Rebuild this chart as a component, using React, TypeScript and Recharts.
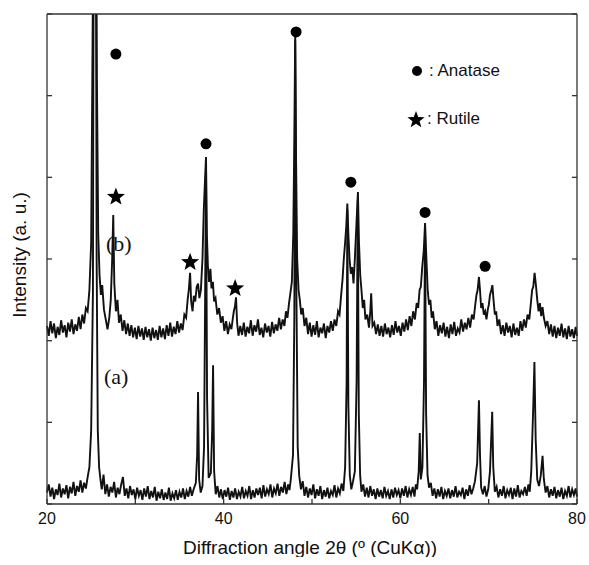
import { ComposedChart, Line, Scatter, XAxis, YAxis } from 'recharts';

// 2θ (deg) vs intensity (arb. units, plot spans 0–600)
const patternA: [number, number][] = [
  [20.0, 14], [20.2, 24], [20.4, 9], [20.6, 20], [20.8, 6], [21.0, 18], [21.2, 11], [21.4, 25], [21.6, 8], [21.8, 19],
  [22.0, 12], [22.2, 23], [22.4, 7], [22.6, 21], [22.8, 13], [23.0, 27], [23.2, 10], [23.4, 22], [23.6, 15], [23.8, 29],
  [24.0, 14], [24.2, 26], [24.4, 19], [24.6, 33], [24.8, 45], [25.0, 90], [25.2, 260], [25.32, 900], [25.5, 900], [25.62, 300],
  [25.75, 90], [25.9, 45], [26.05, 30], [26.2, 18], [26.4, 36], [26.6, 12], [26.8, 24], [27.0, 9], [27.2, 21], [27.4, 14],
  [27.6, 27], [27.8, 8], [28.0, 20], [28.2, 12], [28.4, 24], [28.6, 33], [28.8, 10], [29.0, 19], [29.2, 7], [29.4, 22],
  [29.6, 11], [29.8, 18], [30.0, 6], [30.2, 20], [30.4, 10], [30.6, 17], [30.8, 5], [31.0, 19], [31.2, 9], [31.4, 22],
  [31.6, 6], [31.8, 16], [32.0, 8], [32.2, 21], [32.4, 4], [32.6, 15], [32.8, 7], [33.0, 18], [33.2, 5], [33.4, 14],
  [33.6, 6], [33.8, 20], [34.0, 4], [34.2, 13], [34.4, 7], [34.6, 17], [34.8, 5], [35.0, 15], [35.2, 8], [35.4, 19],
  [35.6, 6], [35.8, 16], [36.0, 9], [36.2, 21], [36.4, 10], [36.6, 18], [36.85, 26], [37.0, 60], [37.1, 137], [37.22, 30],
  [37.4, 14], [37.6, 22], [37.78, 70], [37.9, 250], [38.0, 415], [38.12, 130], [38.3, 32], [38.55, 38], [38.7, 90], [38.8, 170],
  [38.92, 40], [39.1, 12], [39.3, 22], [39.5, 8], [39.7, 18], [39.9, 6], [40.1, 17], [40.3, 9], [40.5, 20], [40.7, 5],
  [40.9, 16], [41.1, 8], [41.3, 19], [41.5, 6], [41.7, 15], [41.9, 9], [42.1, 21], [42.3, 7], [42.5, 16], [42.7, 10],
  [42.9, 22], [43.1, 6], [43.3, 17], [43.5, 8], [43.7, 19], [43.9, 11], [44.1, 20], [44.3, 7], [44.5, 23], [44.7, 9],
  [44.9, 18], [45.1, 12], [45.3, 24], [45.5, 8], [45.7, 19], [45.9, 13], [46.1, 25], [46.3, 10], [46.5, 21], [46.7, 14],
  [46.9, 27], [47.1, 12], [47.3, 24], [47.45, 17], [47.6, 30], [47.85, 60], [48.0, 230], [48.1, 568], [48.22, 280], [48.38, 70],
  [48.55, 35], [48.75, 18], [48.95, 28], [49.15, 10], [49.35, 21], [49.55, 8], [49.75, 19], [49.95, 11], [50.15, 24], [50.35, 7],
  [50.55, 18], [50.75, 10], [50.95, 22], [51.15, 6], [51.35, 17], [51.55, 9], [51.75, 20], [51.95, 7], [52.15, 16], [52.35, 11],
  [52.55, 23], [52.75, 8], [52.95, 19], [53.15, 13], [53.35, 25], [53.55, 16], [53.75, 45], [53.92, 150], [54.0, 360], [54.12, 120],
  [54.28, 35], [54.45, 18], [54.65, 28], [54.85, 40], [55.05, 150], [55.18, 372], [55.3, 110], [55.45, 35], [55.6, 15], [55.8, 24],
  [56.0, 9], [56.2, 20], [56.4, 8], [56.6, 22], [56.8, 10], [57.0, 18], [57.2, 6], [57.4, 19], [57.6, 9], [57.8, 17],
  [58.0, 7], [58.2, 21], [58.4, 10], [58.6, 16], [58.8, 6], [59.0, 18], [59.2, 8], [59.4, 20], [59.6, 11], [59.8, 17],
  [60.0, 7], [60.2, 19], [60.4, 10], [60.6, 22], [60.8, 8], [61.0, 18], [61.2, 11], [61.4, 21], [61.6, 9], [61.75, 24],
  [61.9, 18], [62.08, 40], [62.2, 87], [62.32, 30], [62.5, 45], [62.68, 150], [62.8, 341], [62.92, 110], [63.08, 35], [63.25, 20],
  [63.45, 26], [63.65, 10], [63.85, 19], [64.05, 7], [64.25, 18], [64.45, 9], [64.65, 21], [64.85, 6], [65.05, 16], [65.25, 10],
  [65.45, 19], [65.65, 7], [65.85, 17], [66.05, 9], [66.25, 22], [66.45, 8], [66.65, 15], [66.85, 11], [67.05, 20], [67.25, 6],
  [67.45, 18], [67.65, 10], [67.85, 23], [68.05, 12], [68.25, 19], [68.45, 28], [68.7, 50], [68.9, 127], [69.02, 60], [69.15, 20],
  [69.35, 12], [69.55, 22], [69.75, 9], [69.95, 18], [70.15, 40], [70.4, 113], [70.52, 45], [70.7, 15], [70.9, 21], [71.1, 8],
  [71.3, 18], [71.5, 10], [71.7, 22], [71.9, 7], [72.1, 17], [72.3, 11], [72.5, 20], [72.7, 6], [72.9, 19], [73.1, 9],
  [73.3, 23], [73.5, 8], [73.7, 16], [73.9, 12], [74.1, 21], [74.3, 10], [74.5, 24], [74.65, 15], [74.82, 40], [75.05, 120],
  [75.18, 174], [75.32, 80], [75.5, 30], [75.7, 22], [75.9, 35], [76.1, 59], [76.25, 30], [76.45, 14], [76.65, 22], [76.85, 8],
  [77.05, 18], [77.25, 10], [77.45, 21], [77.65, 7], [77.85, 17], [78.05, 9], [78.25, 20], [78.45, 6], [78.65, 16], [78.85, 10],
  [79.05, 22], [79.25, 8], [79.45, 18], [79.65, 11], [79.85, 19], [80.0, 9],
];

const patternB: [number, number][] = [
  [20.0, 218], [20.2, 206], [20.4, 224], [20.6, 209], [20.8, 221], [21.0, 203], [21.2, 217], [21.4, 207], [21.6, 225], [21.8, 210],
  [22.0, 219], [22.2, 204], [22.4, 222], [22.6, 211], [22.8, 226], [23.0, 208], [23.2, 220], [23.4, 212], [23.6, 229], [23.8, 214],
  [24.0, 232], [24.2, 221], [24.4, 240], [24.6, 236], [24.8, 262], [25.0, 320], [25.18, 600], [25.3, 900], [25.5, 900], [25.65, 520],
  [25.8, 330], [25.95, 280], [26.1, 256], [26.25, 268], [26.45, 238], [26.65, 226], [26.85, 214], [27.05, 228], [27.22, 250], [27.38, 300],
  [27.5, 354], [27.62, 270], [27.8, 236], [27.98, 250], [28.15, 222], [28.35, 232], [28.55, 212], [28.75, 225], [28.95, 208], [29.15, 221],
  [29.35, 206], [29.55, 219], [29.75, 204], [29.95, 216], [30.15, 202], [30.35, 218], [30.55, 205], [30.75, 215], [30.95, 201], [31.15, 217],
  [31.35, 204], [31.55, 214], [31.75, 200], [31.95, 216], [32.15, 203], [32.35, 213], [32.55, 201], [32.75, 218], [32.95, 204], [33.15, 215],
  [33.35, 202], [33.55, 219], [33.75, 206], [33.95, 222], [34.15, 205], [34.35, 217], [34.55, 208], [34.75, 224], [34.95, 210], [35.15, 221],
  [35.35, 213], [35.55, 232], [35.75, 228], [35.92, 250], [36.05, 262], [36.2, 283], [36.32, 248], [36.48, 236], [36.62, 255], [36.78, 248],
  [36.95, 266], [37.1, 270], [37.25, 252], [37.42, 262], [37.6, 300], [37.75, 360], [37.9, 400], [38.0, 425], [38.1, 330], [38.22, 290],
  [38.35, 272], [38.5, 288], [38.62, 264], [38.78, 272], [38.92, 248], [39.08, 252], [39.28, 232], [39.48, 240], [39.68, 222], [39.88, 230],
  [40.08, 212], [40.28, 224], [40.48, 208], [40.68, 220], [40.88, 214], [41.02, 226], [41.15, 236], [41.28, 242], [41.4, 253], [41.52, 222],
  [41.68, 206], [41.88, 218], [42.08, 207], [42.28, 222], [42.48, 205], [42.68, 217], [42.88, 209], [43.08, 225], [43.28, 206], [43.48, 219],
  [43.68, 211], [43.88, 226], [44.08, 207], [44.28, 216], [44.48, 204], [44.68, 221], [44.88, 210], [45.08, 218], [45.28, 205], [45.48, 223],
  [45.68, 209], [45.88, 220], [46.08, 212], [46.28, 228], [46.48, 214], [46.68, 226], [46.88, 218], [47.05, 236], [47.22, 228], [47.4, 246],
  [47.55, 258], [47.72, 272], [47.88, 330], [48.0, 450], [48.1, 576], [48.2, 420], [48.32, 300], [48.48, 262], [48.62, 250], [48.78, 232],
  [48.95, 240], [49.15, 218], [49.35, 228], [49.55, 208], [49.75, 222], [49.95, 205], [50.15, 219], [50.35, 207], [50.55, 224], [50.75, 204],
  [50.95, 216], [51.15, 209], [51.35, 221], [51.55, 203], [51.75, 218], [51.95, 210], [52.15, 224], [52.35, 212], [52.55, 226], [52.75, 218],
  [52.95, 236], [53.12, 232], [53.3, 256], [53.45, 274], [53.6, 300], [53.75, 320], [53.88, 340], [54.0, 368], [54.12, 330], [54.25, 300],
  [54.4, 282], [54.55, 290], [54.7, 270], [54.85, 300], [55.02, 340], [55.2, 382], [55.32, 320], [55.46, 280], [55.6, 262], [55.75, 240],
  [55.9, 250], [56.05, 226], [56.25, 232], [56.45, 216], [56.6, 236], [56.7, 258], [56.85, 218], [57.05, 222], [57.25, 208], [57.45, 220],
  [57.65, 206], [57.85, 218], [58.05, 205], [58.25, 221], [58.45, 208], [58.65, 216], [58.85, 204], [59.05, 219], [59.25, 207], [59.45, 224],
  [59.65, 210], [59.85, 218], [60.05, 206], [60.25, 222], [60.45, 211], [60.65, 226], [60.85, 213], [61.05, 230], [61.25, 218], [61.45, 236],
  [61.65, 226], [61.85, 246], [62.02, 240], [62.18, 262], [62.32, 266], [62.48, 290], [62.65, 310], [62.8, 344], [62.95, 300], [63.1, 262],
  [63.25, 244], [63.4, 250], [63.55, 228], [63.7, 236], [63.9, 214], [64.1, 224], [64.3, 206], [64.5, 219], [64.7, 209], [64.9, 222],
  [65.1, 205], [65.3, 217], [65.5, 203], [65.7, 220], [65.9, 208], [66.1, 223], [66.3, 206], [66.5, 215], [66.7, 210], [66.9, 226],
  [67.1, 211], [67.3, 222], [67.5, 214], [67.7, 228], [67.9, 216], [68.1, 232], [68.3, 226], [68.48, 244], [68.62, 256], [68.75, 262],
  [68.9, 278], [69.02, 262], [69.15, 240], [69.3, 246], [69.45, 232], [69.6, 236], [69.75, 226], [69.9, 238], [70.02, 244], [70.15, 256],
  [70.3, 262], [70.42, 268], [70.55, 250], [70.7, 232], [70.85, 236], [71.0, 218], [71.2, 226], [71.4, 208], [71.6, 219], [71.8, 206],
  [72.0, 222], [72.2, 210], [72.4, 218], [72.6, 204], [72.8, 221], [73.0, 207], [73.2, 216], [73.4, 206], [73.6, 224], [73.8, 212],
  [74.0, 226], [74.2, 216], [74.4, 232], [74.6, 226], [74.78, 246], [74.92, 262], [75.05, 266], [75.2, 283], [75.35, 268], [75.5, 250],
  [75.65, 236], [75.8, 246], [75.95, 230], [76.1, 241], [76.25, 228], [76.45, 218], [76.65, 224], [76.85, 208], [77.05, 220], [77.25, 205],
  [77.45, 218], [77.65, 203], [77.85, 216], [78.05, 206], [78.25, 221], [78.45, 204], [78.65, 215], [78.85, 202], [79.05, 218], [79.25, 205],
  [79.45, 214], [79.65, 203], [79.85, 217], [80.0, 206],
];

// phase markers above peaks
const anataseMarks: [number, number][] = [[27.8, 551], [38.0, 441], [48.2, 578], [54.4, 394], [62.8, 357], [69.6, 291]];
const rutileMarks: [number, number][] = [[27.8, 376], [36.2, 296], [41.3, 264]];

const xTicks = [20, 30, 40, 50, 60, 70, 80];
const xLabels = [20, 40, 60, 80];
const yTicks = [0, 100, 200, 300, 400, 500, 600];

const toRows = (pts: [number, number][]) => pts.map(([x, y]) => ({ x, y }));

const ink = '#111';
const frame = '#333';
const sans = '"Liberation Sans", Arial, sans-serif';
const serif = '"Liberation Serif", "Times New Roman", serif';

function starPath(cx: number, cy: number, r: number) {
  let d = '';
  for (let i = 0; i < 10; i++) {
    const rr = i % 2 === 0 ? r : r * 0.42;
    const a = -Math.PI / 2 + (i * Math.PI) / 5;
    d += `${i === 0 ? 'M' : 'L'}${cx + rr * Math.cos(a)},${cy + rr * Math.sin(a)}`;
  }
  return d + 'Z';
}

const BottomTick = ({ x, y }: any) => <line x1={x} y1={y} x2={x} y2={y - 5} stroke={frame} strokeWidth={1.3} />;
const TopTick = ({ x, y }: any) => <line x1={x} y1={y} x2={x} y2={y + 5} stroke={frame} strokeWidth={1.3} />;
const LeftTick = ({ x, y }: any) => <line x1={x} y1={y} x2={x + 5} y2={y} stroke={frame} strokeWidth={1.3} />;
const RightTick = ({ x, y }: any) => <line x1={x} y1={y} x2={x - 5} y2={y} stroke={frame} strokeWidth={1.3} />;

const Dot = ({ cx, cy }: any) => <circle cx={cx} cy={cy} r={5.5} fill="#000" />;
const Star = ({ cx, cy }: any) => <path d={starPath(cx, cy, 9.5)} fill="#000" />;

// plot box in chart coordinates
const PLOT_LEFT = 39;
const PLOT_RIGHT = 569;

export default function App() {
  const W = 581;
  const H = 549;
  return (
    <div style={{ width: 589, height: 557, paddingTop: 8, paddingLeft: 8, boxSizing: 'border-box' }}>
      <style>{'body { margin: 0; }'}</style>
      <div style={{ position: 'relative', width: W, height: H, fontFamily: sans, color: ink }}>
        <ComposedChart width={W} height={H} margin={{ top: 5, right: 11, bottom: 23, left: 38 }}>
          <XAxis
            type="number"
            dataKey="x"
            domain={[20, 80]}
            ticks={xTicks}
            interval={0}
            height={30}
            tickSize={0}
            tickMargin={0}
            tickLine={false}
            axisLine={{ stroke: frame, strokeWidth: 1.3 }}
            tick={<BottomTick />}
          />
          <XAxis
            xAxisId="top"
            orientation="top"
            type="number"
            dataKey="x"
            domain={[20, 80]}
            ticks={xTicks}
            interval={0}
            height={1}
            tickSize={0}
            tickMargin={0}
            tickLine={false}
            axisLine={{ stroke: frame, strokeWidth: 1.3 }}
            tick={<TopTick />}
          />
          <YAxis
            type="number"
            domain={[0, 600]}
            ticks={yTicks}
            interval={0}
            allowDataOverflow
            width={1}
            tickSize={0}
            tickMargin={0}
            tickLine={false}
            axisLine={{ stroke: frame, strokeWidth: 1.3 }}
            tick={<LeftTick />}
          />
          <YAxis
            yAxisId="right"
            orientation="right"
            type="number"
            domain={[0, 600]}
            ticks={yTicks}
            interval={0}
            allowDataOverflow
            width={1}
            tickSize={0}
            tickMargin={0}
            tickLine={false}
            axisLine={{ stroke: frame, strokeWidth: 1.3 }}
            tick={<RightTick />}
          />
          <Line data={toRows(patternA)} dataKey="y" type="linear" stroke={ink} strokeWidth={1.9} dot={false} isAnimationActive={false} />
          <Line data={toRows(patternB)} dataKey="y" type="linear" stroke={ink} strokeWidth={1.9} dot={false} isAnimationActive={false} />
          <Scatter data={toRows(anataseMarks)} dataKey="y" shape={<Dot />} isAnimationActive={false} />
          <Scatter data={toRows(rutileMarks)} dataKey="y" shape={<Star />} isAnimationActive={false} />
        </ComposedChart>

        {xLabels.map((v) => (
          <div
            key={v}
            style={{
              position: 'absolute',
              left: PLOT_LEFT + ((v - 20) / 60) * (PLOT_RIGHT - PLOT_LEFT),
              top: 511,
              transform: 'translate(-50%, -50%)',
              fontSize: 16,
            }}
          >
            {v}
          </div>
        ))}
        <div
          style={{
            position: 'absolute', left: 12, top: 247, transform: 'translate(-50%, -50%) rotate(-90deg)',
            fontSize: 19, whiteSpace: 'nowrap',
          }}
        >
          Intensity (a. u.)
        </div>
        <div
          style={{
            position: 'absolute', left: 302, top: 540, transform: 'translate(-50%, -50%)',
            fontSize: 19, whiteSpace: 'nowrap', lineHeight: '20px',
          }}
        >
          Diffraction angle 2θ (º (CuKα))
        </div>
        <div style={{ position: 'absolute', left: 98, top: 223, fontFamily: serif, fontSize: 22 }}>(b)</div>
        <div style={{ position: 'absolute', left: 96, top: 356, fontFamily: serif, fontSize: 22 }}>(a)</div>
        <div style={{ position: 'absolute', left: 403, top: 53, fontSize: 17, whiteSpace: 'nowrap', display: 'flex', alignItems: 'center' }}>
          <svg width={14} height={14} style={{ marginRight: 4 }}>
            <circle cx={6} cy={7} r={5} fill="#000" />
          </svg>
          : Anatase
        </div>
        <div style={{ position: 'absolute', left: 399, top: 101, fontSize: 17, whiteSpace: 'nowrap', display: 'flex', alignItems: 'center' }}>
          <svg width={18} height={18} style={{ marginRight: 2 }}>
            <path d={starPath(9, 10, 9)} fill="#000" />
          </svg>
          : Rutile
        </div>
      </div>
    </div>
  );
}
